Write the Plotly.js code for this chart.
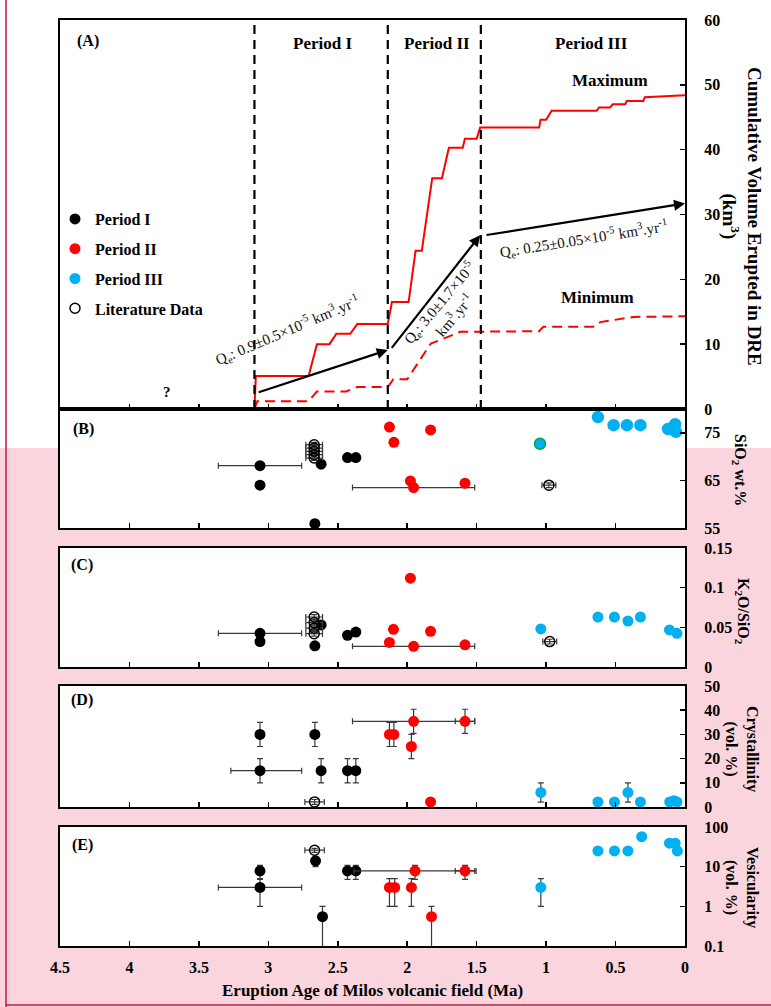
<!DOCTYPE html>
<html>
<head>
<meta charset="utf-8">
<script src="https://cdn.plot.ly/plotly-3.0.1.min.js"></script>
<style>html,body{margin:0;padding:0;background:#fff;}#chart{width:771px;height:1007px;}</style>
</head>
<body>
<div id="chart"></div>
<script>
// ---------------- DATA ----------------
// Panel A: cumulative volume erupted (km3 DRE) vs age (Ma)
const maxAge = [3.10, 3.09, 2.71, 2.65, 2.56, 2.51, 2.41, 2.36, 2.14, 2.11, 1.99, 1.94, 1.895, 1.82, 1.75, 1.70, 1.60, 1.585, 1.50, 1.475, 1.05, 1.04, 1.00, 0.96, 0.635, 0.62, 0.54, 0.52, 0.43, 0.42, 0.30, 0.29, 0.0];
const maxVol = [0, 5.1, 5.1, 10.0, 10.0, 11.6, 11.6, 13.1, 13.1, 16.5, 16.5, 24.4, 24.4, 35.6, 35.6, 40.3, 40.3, 41.7, 41.7, 43.4, 43.4, 44.6, 44.6, 46.0, 46.0, 46.5, 46.5, 47.0, 47.0, 47.5, 47.5, 48.1, 48.4];
const minAge = [3.10, 3.08, 2.71, 2.65, 2.44, 2.36, 2.14, 2.10, 2.00, 1.83, 1.78, 1.62, 1.05, 1.02, 0.66, 0.61, 0.37, 0.0];
const minVol = [0, 1.2, 1.2, 2.7, 2.7, 3.4, 3.4, 4.6, 4.6, 10.1, 10.5, 11.9, 12.0, 12.7, 12.7, 13.4, 14.2, 14.3];
const periodBounds = [3.10, 2.14, 1.47];
const periodNames = ["Period I", "Period II", "Period III"];
const arrowTailAge = [3.08, 2.12, 1.44];
const arrowTailVol = [2.5, 9.2, 26.8];
const arrowHeadAge = [2.14, 1.475, 0.0];
const arrowHeadVol = [9.1, 26.8, 31.7];
const rateLabels = [
  "Q<sub>e</sub>: 0.9±0.5×10<sup>-5</sup> km<sup>3</sup>.yr<sup>-1</sup>",
  "Q<sub>e</sub>: 3.0±1.7×10<sup>-5</sup><br>km<sup>3</sup>.yr<sup>-1</sup>",
  "Q<sub>e</sub>: 0.25±0.05×10<sup>-5</sup> km<sup>3</sup>.yr<sup>-1</sup>"
];

// Panel B: SiO2 wt.%
const p1AgeB = [3.06, 3.06, 2.665, 2.62, 2.43, 2.37];
const p1SiO2 = [68.1, 64.0, 55.9, 68.4, 69.8, 69.8];
const p1SiO2AgeErr = [0.3, 0, 0, 0, 0, 0];
const p2AgeB = [2.128, 2.096, 1.832, 1.977, 1.954, 1.584];
const p2SiO2 = [76.2, 73.0, 75.6, 64.9, 63.5, 64.4];
const p2SiO2AgeErr = [0, 0, 0, 0, 0.44, 0];
const p3AgeB = [1.044, 0.627, 0.514, 0.418, 0.321, 0.122, 0.10, 0.071, 0.065];
const p3SiO2 = [72.7, 78.3, 76.6, 76.6, 76.6, 75.8, 75.9, 76.8, 75.2];
const litAgeB = [2.67, 2.67, 2.67, 2.67, 2.67, 0.98];
const litSiO2 = [72.5, 71.8, 71.1, 70.4, 69.7, 64.0];
const litSiO2AgeErr = [0.06, 0.06, 0.06, 0.06, 0.06, 0.05];
const litSiO2Err = [0.5, 0.5, 0.5, 0.5, 0.5, 0.5];

// Panel C: K2O/SiO2
const p1AgeC = [3.06, 3.06, 2.665, 2.62, 2.43, 2.37];
const p1K2O = [0.0425, 0.032, 0.0267, 0.053, 0.040, 0.044];
const p1K2OAgeErr = [0.3, 0, 0, 0, 0, 0];
const p2AgeC = [1.977, 2.099, 2.128, 1.954, 1.832, 1.584];
const p2K2O = [0.112, 0.0475, 0.031, 0.026, 0.045, 0.028];
const p2K2OAgeErr = [0, 0, 0, 0.44, 0, 0];
const p3AgeC = [1.038, 0.627, 0.508, 0.411, 0.321, 0.112, 0.058];
const p3K2O = [0.048, 0.063, 0.063, 0.058, 0.063, 0.0467, 0.0425];
const litAgeC = [2.67, 2.67, 2.67, 2.67, 0.974];
const litK2O = [0.063, 0.056, 0.049, 0.042, 0.032];
const litK2OAgeErr = [0.06, 0.06, 0.06, 0.06, 0.05];
const litK2OErr = [0.003, 0.003, 0.003, 0.003, 0.003];

// Panel D: crystallinity (vol.%)
const p1AgeD = [3.06, 2.665, 3.06, 2.62, 2.43, 2.37];
const p1Cry = [30, 30, 15, 15, 15, 15];
const p1CryErr = [5, 5, 5, 5, 5, 5];
const p1CryAgeErrPlus = [0, 0, 0.21, 0, 0, 0];
const p1CryAgeErrMinus = [0, 0, 0.30, 0, 0, 0];
const p2AgeD = [2.128, 2.096, 1.954, 1.584, 1.97, 1.832];
const p2Cry = [30, 30, 35.4, 35.4, 25, 2.1];
const p2CryErr = [5, 5, 5, 5, 5, 0];
const p2CryAgeErr = [0, 0, 0.44, 0.07, 0, 0];
const p3AgeD = [1.038, 0.627, 0.508, 0.411, 0.321, 0.11, 0.08, 0.058];
const p3Cry = [6, 2.1, 2.1, 6, 2.1, 2.1, 2.6, 2.1];
const p3CryErr = [4, 0, 0, 4, 0, 0, 0, 0];
const litAgeD = [2.667];
const litCry = [2.1];
const litCryAgeErr = [0.07];
const litCryErr = [1];

// Panel E: vesicularity (vol.%)
const p1AgeE = [3.06, 3.06, 2.66, 2.61, 2.43, 2.37];
const p1Ves = [7.8, 3.0, 14, 0.55, 7.8, 7.8];
const p1VesErrPlus = [3, 2, 4, 0.45, 3, 3];
const p1VesErrMinus = [3, 2, 4, 0.5, 3, 3];
const p1VesAgeErr = [0, 0.3, 0, 0, 0, 0];
const p2AgeE = [2.128, 2.09, 1.97, 1.944, 1.584, 1.825];
const p2Ves = [3, 3, 3, 7.8, 7.8, 0.55];
const p2VesErrPlus = [2, 2, 2, 3, 3, 0.45];
const p2VesErrMinus = [2, 2, 2, 3, 3, 0.5];
const p2VesAgeErr = [0, 0, 0, 0.44, 0.07, 0];
const p3AgeE = [1.038, 0.627, 0.508, 0.411, 0.312, 0.112, 0.071, 0.055];
const p3Ves = [3, 25, 25, 25, 57, 39, 39, 25];
const p3VesErrPlus = [2, 0, 0, 0, 0, 0, 0, 0];
const p3VesErrMinus = [2, 0, 0, 0, 0, 0, 0, 0];
const litAgeE = [2.667];
const litVes = [26];
const litVesAgeErr = [0.07];
const litVesErr = [3];

// ---------------- STYLE ----------------
const SERIF = 'Liberation Serif, Times New Roman, serif';
const BLACK = '#000000', RED = '#ff0000', BLUE = '#00b0f0', GREEN = '#00a651';
const ERRC = '#3a3a3a';
const MS = 11;

function errArr(plus, minus) {
  const e = {type: 'data', array: plus, color: ERRC, thickness: 1.2, width: 3, visible: true};
  if (minus) { e.symmetric = false; e.arrayminus = minus; } else { e.symmetric = true; }
  return e;
}
function pts(xs, ys, color, ax, opts) {
  opts = opts || {};
  const t = {
    type: 'scatter', mode: 'markers', x: xs, y: ys,
    xaxis: 'x' + ax, yaxis: 'y' + ax,
    marker: {color: color, size: MS, line: {width: 0}},
    showlegend: false, hoverinfo: 'skip'
  };
  if (opts.open) { t.marker = {color: BLACK, size: 10, symbol: 'circle-open', line: {width: 1.5, color: BLACK}}; }
  if (opts.lineColors) { t.marker.line = {width: 1.5, color: opts.lineColors}; }
  if (opts.ex) t.error_x = errArr(opts.ex, opts.exm);
  if (opts.ey) t.error_y = errArr(opts.ey, opts.eym);
  if (opts.name) { t.name = opts.name; t.showlegend = true; t.legendgroup = opts.name; }
  return t;
}

const p3LineB = p3AgeB.map((a, i) => i === 0 ? GREEN : BLUE);

const data = [
  // Panel A
  {type: 'scatter', mode: 'lines', x: maxAge, y: maxVol, xaxis: 'x', yaxis: 'y', line: {color: RED, width: 2}, showlegend: false, hoverinfo: 'skip'},
  {type: 'scatter', mode: 'lines', x: minAge, y: minVol, xaxis: 'x', yaxis: 'y', line: {color: RED, width: 2, dash: '10px,6px'}, showlegend: false, hoverinfo: 'skip'},
  // Panel B
  pts(p1AgeB, p1SiO2, BLACK, 2, {ex: p1SiO2AgeErr}),
  pts(p2AgeB, p2SiO2, RED, 2, {ex: p2SiO2AgeErr}),
  pts(p3AgeB, p3SiO2, BLUE, 2, {lineColors: p3LineB}),
  pts(litAgeB, litSiO2, BLACK, 2, {open: true, ex: litSiO2AgeErr, ey: litSiO2Err}),
  // Panel C (legend taken from here)
  pts(p1AgeC, p1K2O, BLACK, 3, {ex: p1K2OAgeErr, name: 'Period I'}),
  pts(p2AgeC, p2K2O, RED, 3, {ex: p2K2OAgeErr, name: 'Period II'}),
  pts(p3AgeC, p3K2O, BLUE, 3, {name: 'Period III'}),
  pts(litAgeC, litK2O, BLACK, 3, {open: true, ex: litK2OAgeErr, ey: litK2OErr, name: 'Literature Data'}),
  // Panel D
  pts(p1AgeD, p1Cry, BLACK, 4, {ex: p1CryAgeErrPlus, exm: p1CryAgeErrMinus, ey: p1CryErr}),
  pts(p2AgeD, p2Cry, RED, 4, {ex: p2CryAgeErr, ey: p2CryErr}),
  pts(p3AgeD, p3Cry, BLUE, 4, {ey: p3CryErr}),
  pts(litAgeD, litCry, BLACK, 4, {open: true, ex: litCryAgeErr, ey: litCryErr}),
  // Panel E
  pts(p1AgeE, p1Ves, BLACK, 5, {ex: p1VesAgeErr, ey: p1VesErrPlus, eym: p1VesErrMinus}),
  pts(p2AgeE, p2Ves, RED, 5, {ex: p2VesAgeErr, ey: p2VesErrPlus, eym: p2VesErrMinus}),
  pts(p3AgeE, p3Ves, BLUE, 5, {ey: p3VesErrPlus, eym: p3VesErrMinus}),
  pts(litAgeE, litVes, BLACK, 5, {open: true, ex: litVesAgeErr, ey: litVesErr})
];

// ---------------- LAYOUT ----------------
const H = 926; // plot area height in px (top 20, bottom 946)
const pyToPaper = py => (946 - py) / H;
const pxToPaper = px => (px - 60) / 625;

const tickFont = {family: SERIF, size: 16, color: BLACK, weight: 'bold'};

function xAxis(anchor, labels) {
  return {
    anchor: anchor, domain: [0, 1], range: [4.5, 0], autorange: false,
    tickmode: 'linear', tick0: 0, dtick: 0.5,
    ticks: 'inside', ticklen: 5, tickwidth: 1.5, tickcolor: BLACK,
    showline: true, linewidth: 2, linecolor: BLACK, mirror: true,
    showgrid: false, zeroline: false,
    showticklabels: labels, tickfont: tickFont, ticklabelstandoff: 6
  };
}
function yAxis(anchor, top, bottom, extra) {
  return Object.assign({
    anchor: anchor, domain: [pyToPaper(bottom), pyToPaper(top)], side: 'right',
    ticks: 'inside', ticklen: 5, tickwidth: 1.5, tickcolor: BLACK,
    showline: true, linewidth: 2, linecolor: BLACK, mirror: true,
    showgrid: false, zeroline: false, tickfont: tickFont, ticklabelstandoff: 14
  }, extra);
}

const shapes = [];
// white upper background region (screenshot look)
shapes.push({type: 'rect', xref: 'paper', yref: 'paper', x0: pxToPaper(-5), x1: pxToPaper(780), y0: pyToPaper(448), y1: pyToPaper(-5), fillcolor: '#ffffff', line: {width: 0}, layer: 'below'});
// period boundaries
periodBounds.forEach(b => shapes.push({type: 'line', xref: 'x', yref: 'y', x0: b, x1: b, y0: 0, y1: 60, line: {color: BLACK, width: 2.2, dash: '9px,6px'}}));
// red frame lines
shapes.push({type: 'line', xref: 'paper', yref: 'paper', x0: pxToPaper(6), x1: pxToPaper(6), y0: pyToPaper(1010), y1: pyToPaper(-5), line: {color: '#c8143c', width: 1.5}});
shapes.push({type: 'line', xref: 'paper', yref: 'paper', x0: pxToPaper(6), x1: pxToPaper(775), y0: pyToPaper(1005), y1: pyToPaper(1005), line: {color: '#c8143c', width: 1.5}});

const boldF = (s) => ({family: SERIF, size: s, color: BLACK, weight: 'bold'});
const C = {xanchor: 'center', yanchor: 'middle', showarrow: false};
const annotations = [];
// arrows
arrowHeadAge.forEach((a, i) => annotations.push({
  xref: 'x', yref: 'y', axref: 'x', ayref: 'y', x: a, y: arrowHeadVol[i], ax: arrowTailAge[i], ay: arrowTailVol[i],
  text: '', showarrow: true, arrowhead: 2, arrowsize: 1, arrowwidth: 2.2, arrowcolor: BLACK, standoff: 0, startstandoff: 0
}));
// rate labels
const rateFont = {family: SERIF, size: 15, color: '#111'};
annotations.push(Object.assign({xref: 'x', yref: 'y', x: 2.86, y: 12.2, text: rateLabels[0], textangle: -23, font: rateFont}, C));
annotations.push(Object.assign({xref: 'x', yref: 'y', x: 1.72, y: 15.4, text: rateLabels[1], textangle: -50, font: rateFont}, C));
annotations.push(Object.assign({xref: 'x', yref: 'y', x: 0.73, y: 26.2, text: rateLabels[2], textangle: -9, font: rateFont}, C));
// panel A labels
annotations.push(Object.assign({xref: 'x', yref: 'y', x: 0.54, y: 50.6, text: 'Maximum', font: boldF(17)}, C));
annotations.push(Object.assign({xref: 'x', yref: 'y', x: 0.63, y: 17.2, text: 'Minimum', font: boldF(17)}, C));
annotations.push(Object.assign({xref: 'x', yref: 'y', x: 3.73, y: 2.6, text: '?', font: boldF(15)}, C));
const periodLabelAge = [2.61, 1.785, 0.67];
periodNames.forEach((n, i) => annotations.push(Object.assign({xref: 'x', yref: 'y', x: periodLabelAge[i], y: 56.3, text: n, font: boldF(17)}, C)));
// panel letters
[['(A)', 88, 41], ['(B)', 83, 429], ['(C)', 82, 565], ['(D)', 82, 700], ['(E)', 82, 845]].forEach(p =>
  annotations.push(Object.assign({xref: 'paper', yref: 'paper', x: pxToPaper(p[1]), y: pyToPaper(p[2]), text: p[0], font: boldF(16)}, C)));
// right-side axis titles
[['Cumulative Volume Erupted in DRE<br>(km<sup>3</sup>)', 742, 216, 19],
 ['SiO<sub>2</sub> wt.%', 740, 470, 16],
 ['K<sub>2</sub>O/SiO<sub>2</sub>', 742, 611, 16],
 ['Crystallinity<br>(vol. %)', 742, 749, 16],
 ['Vesicularity<br>(vol. %)', 742, 887, 16]].forEach(p =>
  annotations.push(Object.assign({xref: 'paper', yref: 'paper', x: pxToPaper(p[1]), y: pyToPaper(p[2]), text: p[0], textangle: 90, font: boldF(p[3])}, C)));
// x-axis title
annotations.push(Object.assign({xref: 'paper', yref: 'paper', x: 0.5, y: pyToPaper(990), text: 'Eruption Age of Milos volcanic field (Ma)', font: boldF(17)}, C));

const layout = {
  width: 771, height: 1007,
  margin: {l: 60, r: 86, t: 20, b: 61},
  paper_bgcolor: '#fbd5de', plot_bgcolor: '#ffffff',
  font: {family: SERIF, color: BLACK},
  showlegend: true,
  legend: {x: pxToPaper(55), y: pyToPaper(202), xanchor: 'left', yanchor: 'top', bgcolor: 'rgba(0,0,0,0)',
           font: boldF(16), tracegroupgap: 6, itemwidth: 30},
  xaxis: xAxis('y', false),
  xaxis2: xAxis('y2', false),
  xaxis3: xAxis('y3', false),
  xaxis4: xAxis('y4', false),
  xaxis5: xAxis('y5', true),
  yaxis: yAxis('x', 20, 409, {range: [0, 60], tickmode: 'linear', tick0: 0, dtick: 10}),
  yaxis2: yAxis('x2', 409, 528, {range: [55, 80], tickvals: [55, 65, 75]}),
  yaxis3: yAxis('x3', 548, 667, {range: [0, 0.15], tickvals: [0, 0.05, 0.1, 0.15], ticktext: ['0', '0.05', '0.1', '0.15']}),
  yaxis4: yAxis('x4', 686, 807, {range: [0, 50], tickmode: 'linear', tick0: 0, dtick: 10}),
  yaxis5: yAxis('x5', 827, 946, {type: 'log', range: [-1, 2], tickvals: [0.1, 1, 10, 100], ticktext: ['0.1', '1', '10', '100']}),
  shapes: shapes,
  annotations: annotations
};

Plotly.newPlot('chart', data, layout, {displayModeBar: false, staticPlot: true});
</script>
</body>
</html>
